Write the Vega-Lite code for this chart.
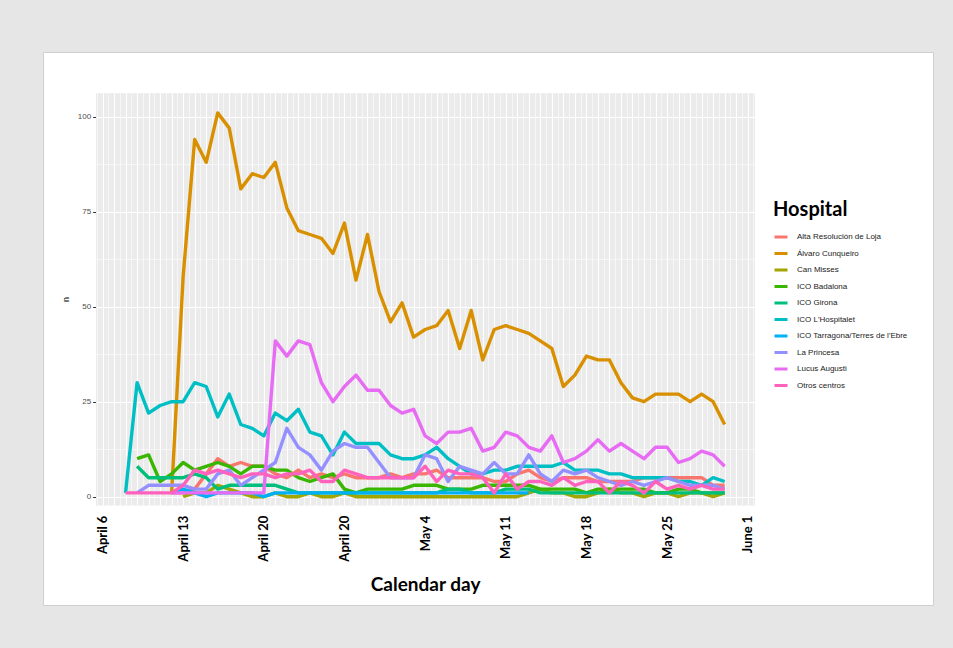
{
"$schema":"https://vega.github.io/schema/vega-lite/v6.json",
"width":890,"height":553,
"autosize":{"type":"none"},
"padding":{"left":43,"top":52,"right":20,"bottom":43},
"background":"#e6e6e6",
"config":{"view":{"fill":"#ffffff","stroke":"#cfcfcf","strokeWidth":1}},
"resolve":{"axis":{"x":"independent","y":"independent"}},
"data":{"values":[
{"d":"2020-04-12","h":"Alta Resolución de Loja","n":1},{"d":"2020-04-13","h":"Alta Resolución de Loja","n":1},{"d":"2020-04-14","h":"Alta Resolución de Loja","n":2},{"d":"2020-04-15","h":"Alta Resolución de Loja","n":6},{"d":"2020-04-16","h":"Alta Resolución de Loja","n":10},{"d":"2020-04-17","h":"Alta Resolución de Loja","n":8},{"d":"2020-04-18","h":"Alta Resolución de Loja","n":9},{"d":"2020-04-19","h":"Alta Resolución de Loja","n":8},{"d":"2020-04-20","h":"Alta Resolución de Loja","n":8},{"d":"2020-04-21","h":"Alta Resolución de Loja","n":6},{"d":"2020-04-22","h":"Alta Resolución de Loja","n":5},{"d":"2020-04-23","h":"Alta Resolución de Loja","n":7},{"d":"2020-04-24","h":"Alta Resolución de Loja","n":5},{"d":"2020-04-25","h":"Alta Resolución de Loja","n":6},{"d":"2020-04-26","h":"Alta Resolución de Loja","n":5},{"d":"2020-04-27","h":"Alta Resolución de Loja","n":6},{"d":"2020-04-28","h":"Alta Resolución de Loja","n":5},{"d":"2020-04-29","h":"Alta Resolución de Loja","n":5},{"d":"2020-04-30","h":"Alta Resolución de Loja","n":5},{"d":"2020-05-01","h":"Alta Resolución de Loja","n":6},{"d":"2020-05-02","h":"Alta Resolución de Loja","n":5},{"d":"2020-05-03","h":"Alta Resolución de Loja","n":6},{"d":"2020-05-04","h":"Alta Resolución de Loja","n":6},{"d":"2020-05-05","h":"Alta Resolución de Loja","n":7},{"d":"2020-05-06","h":"Alta Resolución de Loja","n":5},{"d":"2020-05-07","h":"Alta Resolución de Loja","n":5},{"d":"2020-05-08","h":"Alta Resolución de Loja","n":5},{"d":"2020-05-09","h":"Alta Resolución de Loja","n":5},{"d":"2020-05-10","h":"Alta Resolución de Loja","n":4},{"d":"2020-05-11","h":"Alta Resolución de Loja","n":4},{"d":"2020-05-12","h":"Alta Resolución de Loja","n":6},{"d":"2020-05-13","h":"Alta Resolución de Loja","n":7},{"d":"2020-05-14","h":"Alta Resolución de Loja","n":5},{"d":"2020-05-15","h":"Alta Resolución de Loja","n":4},{"d":"2020-05-16","h":"Alta Resolución de Loja","n":5},{"d":"2020-05-17","h":"Alta Resolución de Loja","n":5},{"d":"2020-05-18","h":"Alta Resolución de Loja","n":5},{"d":"2020-05-19","h":"Alta Resolución de Loja","n":4},{"d":"2020-05-20","h":"Alta Resolución de Loja","n":4},{"d":"2020-05-21","h":"Alta Resolución de Loja","n":4},{"d":"2020-05-22","h":"Alta Resolución de Loja","n":4},{"d":"2020-05-23","h":"Alta Resolución de Loja","n":5},{"d":"2020-05-24","h":"Alta Resolución de Loja","n":5},{"d":"2020-05-25","h":"Alta Resolución de Loja","n":5},{"d":"2020-05-26","h":"Alta Resolución de Loja","n":5},{"d":"2020-05-27","h":"Alta Resolución de Loja","n":5},{"d":"2020-05-28","h":"Alta Resolución de Loja","n":5},{"d":"2020-05-29","h":"Alta Resolución de Loja","n":3},{"d":"2020-05-30","h":"Alta Resolución de Loja","n":3},
{"d":"2020-04-12","h":"Álvaro Cunqueiro","n":1},{"d":"2020-04-13","h":"Álvaro Cunqueiro","n":58},{"d":"2020-04-14","h":"Álvaro Cunqueiro","n":94},{"d":"2020-04-15","h":"Álvaro Cunqueiro","n":88},{"d":"2020-04-16","h":"Álvaro Cunqueiro","n":101},{"d":"2020-04-17","h":"Álvaro Cunqueiro","n":97},{"d":"2020-04-18","h":"Álvaro Cunqueiro","n":81},{"d":"2020-04-19","h":"Álvaro Cunqueiro","n":85},{"d":"2020-04-20","h":"Álvaro Cunqueiro","n":84},{"d":"2020-04-21","h":"Álvaro Cunqueiro","n":88},{"d":"2020-04-22","h":"Álvaro Cunqueiro","n":76},{"d":"2020-04-23","h":"Álvaro Cunqueiro","n":70},{"d":"2020-04-24","h":"Álvaro Cunqueiro","n":69},{"d":"2020-04-25","h":"Álvaro Cunqueiro","n":68},{"d":"2020-04-26","h":"Álvaro Cunqueiro","n":64},{"d":"2020-04-27","h":"Álvaro Cunqueiro","n":72},{"d":"2020-04-28","h":"Álvaro Cunqueiro","n":57},{"d":"2020-04-29","h":"Álvaro Cunqueiro","n":69},{"d":"2020-04-30","h":"Álvaro Cunqueiro","n":54},{"d":"2020-05-01","h":"Álvaro Cunqueiro","n":46},{"d":"2020-05-02","h":"Álvaro Cunqueiro","n":51},{"d":"2020-05-03","h":"Álvaro Cunqueiro","n":42},{"d":"2020-05-04","h":"Álvaro Cunqueiro","n":44},{"d":"2020-05-05","h":"Álvaro Cunqueiro","n":45},{"d":"2020-05-06","h":"Álvaro Cunqueiro","n":49},{"d":"2020-05-07","h":"Álvaro Cunqueiro","n":39},{"d":"2020-05-08","h":"Álvaro Cunqueiro","n":49},{"d":"2020-05-09","h":"Álvaro Cunqueiro","n":36},{"d":"2020-05-10","h":"Álvaro Cunqueiro","n":44},{"d":"2020-05-11","h":"Álvaro Cunqueiro","n":45},{"d":"2020-05-12","h":"Álvaro Cunqueiro","n":44},{"d":"2020-05-13","h":"Álvaro Cunqueiro","n":43},{"d":"2020-05-14","h":"Álvaro Cunqueiro","n":41},{"d":"2020-05-15","h":"Álvaro Cunqueiro","n":39},{"d":"2020-05-16","h":"Álvaro Cunqueiro","n":29},{"d":"2020-05-17","h":"Álvaro Cunqueiro","n":32},{"d":"2020-05-18","h":"Álvaro Cunqueiro","n":37},{"d":"2020-05-19","h":"Álvaro Cunqueiro","n":36},{"d":"2020-05-20","h":"Álvaro Cunqueiro","n":36},{"d":"2020-05-21","h":"Álvaro Cunqueiro","n":30},{"d":"2020-05-22","h":"Álvaro Cunqueiro","n":26},{"d":"2020-05-23","h":"Álvaro Cunqueiro","n":25},{"d":"2020-05-24","h":"Álvaro Cunqueiro","n":27},{"d":"2020-05-25","h":"Álvaro Cunqueiro","n":27},{"d":"2020-05-26","h":"Álvaro Cunqueiro","n":27},{"d":"2020-05-27","h":"Álvaro Cunqueiro","n":25},{"d":"2020-05-28","h":"Álvaro Cunqueiro","n":27},{"d":"2020-05-29","h":"Álvaro Cunqueiro","n":25},{"d":"2020-05-30","h":"Álvaro Cunqueiro","n":19},
{"d":"2020-04-13","h":"Can Misses","n":0},{"d":"2020-04-14","h":"Can Misses","n":1},{"d":"2020-04-15","h":"Can Misses","n":1},{"d":"2020-04-16","h":"Can Misses","n":3},{"d":"2020-04-17","h":"Can Misses","n":2},{"d":"2020-04-18","h":"Can Misses","n":1},{"d":"2020-04-19","h":"Can Misses","n":0},{"d":"2020-04-20","h":"Can Misses","n":0},{"d":"2020-04-21","h":"Can Misses","n":1},{"d":"2020-04-22","h":"Can Misses","n":0},{"d":"2020-04-23","h":"Can Misses","n":0},{"d":"2020-04-24","h":"Can Misses","n":1},{"d":"2020-04-25","h":"Can Misses","n":0},{"d":"2020-04-26","h":"Can Misses","n":0},{"d":"2020-04-27","h":"Can Misses","n":1},{"d":"2020-04-28","h":"Can Misses","n":0},{"d":"2020-04-29","h":"Can Misses","n":0},{"d":"2020-04-30","h":"Can Misses","n":0},{"d":"2020-05-01","h":"Can Misses","n":0},{"d":"2020-05-02","h":"Can Misses","n":0},{"d":"2020-05-03","h":"Can Misses","n":0},{"d":"2020-05-04","h":"Can Misses","n":0},{"d":"2020-05-05","h":"Can Misses","n":0},{"d":"2020-05-06","h":"Can Misses","n":0},{"d":"2020-05-07","h":"Can Misses","n":0},{"d":"2020-05-08","h":"Can Misses","n":0},{"d":"2020-05-09","h":"Can Misses","n":0},{"d":"2020-05-10","h":"Can Misses","n":0},{"d":"2020-05-11","h":"Can Misses","n":0},{"d":"2020-05-12","h":"Can Misses","n":0},{"d":"2020-05-13","h":"Can Misses","n":1},{"d":"2020-05-14","h":"Can Misses","n":2},{"d":"2020-05-15","h":"Can Misses","n":1},{"d":"2020-05-16","h":"Can Misses","n":1},{"d":"2020-05-17","h":"Can Misses","n":0},{"d":"2020-05-18","h":"Can Misses","n":0},{"d":"2020-05-19","h":"Can Misses","n":1},{"d":"2020-05-20","h":"Can Misses","n":2},{"d":"2020-05-21","h":"Can Misses","n":1},{"d":"2020-05-22","h":"Can Misses","n":1},{"d":"2020-05-23","h":"Can Misses","n":0},{"d":"2020-05-24","h":"Can Misses","n":1},{"d":"2020-05-25","h":"Can Misses","n":1},{"d":"2020-05-26","h":"Can Misses","n":0},{"d":"2020-05-27","h":"Can Misses","n":1},{"d":"2020-05-28","h":"Can Misses","n":1},{"d":"2020-05-29","h":"Can Misses","n":0},{"d":"2020-05-30","h":"Can Misses","n":1},
{"d":"2020-04-09","h":"ICO Badalona","n":10},{"d":"2020-04-10","h":"ICO Badalona","n":11},{"d":"2020-04-11","h":"ICO Badalona","n":4},{"d":"2020-04-12","h":"ICO Badalona","n":6},{"d":"2020-04-13","h":"ICO Badalona","n":9},{"d":"2020-04-14","h":"ICO Badalona","n":7},{"d":"2020-04-15","h":"ICO Badalona","n":8},{"d":"2020-04-16","h":"ICO Badalona","n":9},{"d":"2020-04-17","h":"ICO Badalona","n":8},{"d":"2020-04-18","h":"ICO Badalona","n":6},{"d":"2020-04-19","h":"ICO Badalona","n":8},{"d":"2020-04-20","h":"ICO Badalona","n":8},{"d":"2020-04-21","h":"ICO Badalona","n":7},{"d":"2020-04-22","h":"ICO Badalona","n":7},{"d":"2020-04-23","h":"ICO Badalona","n":5},{"d":"2020-04-24","h":"ICO Badalona","n":4},{"d":"2020-04-25","h":"ICO Badalona","n":5},{"d":"2020-04-26","h":"ICO Badalona","n":6},{"d":"2020-04-27","h":"ICO Badalona","n":2},{"d":"2020-04-28","h":"ICO Badalona","n":1},{"d":"2020-04-29","h":"ICO Badalona","n":2},{"d":"2020-04-30","h":"ICO Badalona","n":2},{"d":"2020-05-01","h":"ICO Badalona","n":2},{"d":"2020-05-02","h":"ICO Badalona","n":2},{"d":"2020-05-03","h":"ICO Badalona","n":3},{"d":"2020-05-04","h":"ICO Badalona","n":3},{"d":"2020-05-05","h":"ICO Badalona","n":3},{"d":"2020-05-06","h":"ICO Badalona","n":2},{"d":"2020-05-07","h":"ICO Badalona","n":2},{"d":"2020-05-08","h":"ICO Badalona","n":2},{"d":"2020-05-09","h":"ICO Badalona","n":3},{"d":"2020-05-10","h":"ICO Badalona","n":3},{"d":"2020-05-11","h":"ICO Badalona","n":3},{"d":"2020-05-12","h":"ICO Badalona","n":3},{"d":"2020-05-13","h":"ICO Badalona","n":3},{"d":"2020-05-14","h":"ICO Badalona","n":2},{"d":"2020-05-15","h":"ICO Badalona","n":2},{"d":"2020-05-16","h":"ICO Badalona","n":2},{"d":"2020-05-17","h":"ICO Badalona","n":2},{"d":"2020-05-18","h":"ICO Badalona","n":1},{"d":"2020-05-19","h":"ICO Badalona","n":2},{"d":"2020-05-20","h":"ICO Badalona","n":2},{"d":"2020-05-21","h":"ICO Badalona","n":2},{"d":"2020-05-22","h":"ICO Badalona","n":2},{"d":"2020-05-23","h":"ICO Badalona","n":2},{"d":"2020-05-24","h":"ICO Badalona","n":1},{"d":"2020-05-25","h":"ICO Badalona","n":1},{"d":"2020-05-26","h":"ICO Badalona","n":2},{"d":"2020-05-27","h":"ICO Badalona","n":2},{"d":"2020-05-28","h":"ICO Badalona","n":1},{"d":"2020-05-29","h":"ICO Badalona","n":1},{"d":"2020-05-30","h":"ICO Badalona","n":1},
{"d":"2020-04-09","h":"ICO Girona","n":8},{"d":"2020-04-10","h":"ICO Girona","n":5},{"d":"2020-04-11","h":"ICO Girona","n":5},{"d":"2020-04-12","h":"ICO Girona","n":5},{"d":"2020-04-13","h":"ICO Girona","n":5},{"d":"2020-04-14","h":"ICO Girona","n":6},{"d":"2020-04-15","h":"ICO Girona","n":5},{"d":"2020-04-16","h":"ICO Girona","n":2},{"d":"2020-04-17","h":"ICO Girona","n":3},{"d":"2020-04-18","h":"ICO Girona","n":3},{"d":"2020-04-19","h":"ICO Girona","n":3},{"d":"2020-04-20","h":"ICO Girona","n":3},{"d":"2020-04-21","h":"ICO Girona","n":3},{"d":"2020-04-22","h":"ICO Girona","n":2},{"d":"2020-04-23","h":"ICO Girona","n":1},{"d":"2020-04-24","h":"ICO Girona","n":1},{"d":"2020-04-25","h":"ICO Girona","n":1},{"d":"2020-04-26","h":"ICO Girona","n":1},{"d":"2020-04-27","h":"ICO Girona","n":1},{"d":"2020-04-28","h":"ICO Girona","n":1},{"d":"2020-04-29","h":"ICO Girona","n":1},{"d":"2020-04-30","h":"ICO Girona","n":1},{"d":"2020-05-01","h":"ICO Girona","n":1},{"d":"2020-05-02","h":"ICO Girona","n":1},{"d":"2020-05-03","h":"ICO Girona","n":1},{"d":"2020-05-04","h":"ICO Girona","n":1},{"d":"2020-05-05","h":"ICO Girona","n":1},{"d":"2020-05-06","h":"ICO Girona","n":2},{"d":"2020-05-07","h":"ICO Girona","n":2},{"d":"2020-05-08","h":"ICO Girona","n":1},{"d":"2020-05-09","h":"ICO Girona","n":1},{"d":"2020-05-10","h":"ICO Girona","n":1},{"d":"2020-05-11","h":"ICO Girona","n":2},{"d":"2020-05-12","h":"ICO Girona","n":2},{"d":"2020-05-13","h":"ICO Girona","n":2},{"d":"2020-05-14","h":"ICO Girona","n":1},{"d":"2020-05-15","h":"ICO Girona","n":1},{"d":"2020-05-16","h":"ICO Girona","n":1},{"d":"2020-05-17","h":"ICO Girona","n":1},{"d":"2020-05-18","h":"ICO Girona","n":1},{"d":"2020-05-19","h":"ICO Girona","n":1},{"d":"2020-05-20","h":"ICO Girona","n":1},{"d":"2020-05-21","h":"ICO Girona","n":1},{"d":"2020-05-22","h":"ICO Girona","n":1},{"d":"2020-05-23","h":"ICO Girona","n":1},{"d":"2020-05-24","h":"ICO Girona","n":1},{"d":"2020-05-25","h":"ICO Girona","n":1},{"d":"2020-05-26","h":"ICO Girona","n":1},{"d":"2020-05-27","h":"ICO Girona","n":1},{"d":"2020-05-28","h":"ICO Girona","n":1},{"d":"2020-05-29","h":"ICO Girona","n":1},{"d":"2020-05-30","h":"ICO Girona","n":1},
{"d":"2020-04-08","h":"ICO L'Hospitalet","n":1},{"d":"2020-04-09","h":"ICO L'Hospitalet","n":30},{"d":"2020-04-10","h":"ICO L'Hospitalet","n":22},{"d":"2020-04-11","h":"ICO L'Hospitalet","n":24},{"d":"2020-04-12","h":"ICO L'Hospitalet","n":25},{"d":"2020-04-13","h":"ICO L'Hospitalet","n":25},{"d":"2020-04-14","h":"ICO L'Hospitalet","n":30},{"d":"2020-04-15","h":"ICO L'Hospitalet","n":29},{"d":"2020-04-16","h":"ICO L'Hospitalet","n":21},{"d":"2020-04-17","h":"ICO L'Hospitalet","n":27},{"d":"2020-04-18","h":"ICO L'Hospitalet","n":19},{"d":"2020-04-19","h":"ICO L'Hospitalet","n":18},{"d":"2020-04-20","h":"ICO L'Hospitalet","n":16},{"d":"2020-04-21","h":"ICO L'Hospitalet","n":22},{"d":"2020-04-22","h":"ICO L'Hospitalet","n":20},{"d":"2020-04-23","h":"ICO L'Hospitalet","n":23},{"d":"2020-04-24","h":"ICO L'Hospitalet","n":17},{"d":"2020-04-25","h":"ICO L'Hospitalet","n":16},{"d":"2020-04-26","h":"ICO L'Hospitalet","n":11},{"d":"2020-04-27","h":"ICO L'Hospitalet","n":17},{"d":"2020-04-28","h":"ICO L'Hospitalet","n":14},{"d":"2020-04-29","h":"ICO L'Hospitalet","n":14},{"d":"2020-04-30","h":"ICO L'Hospitalet","n":14},{"d":"2020-05-01","h":"ICO L'Hospitalet","n":11},{"d":"2020-05-02","h":"ICO L'Hospitalet","n":10},{"d":"2020-05-03","h":"ICO L'Hospitalet","n":10},{"d":"2020-05-04","h":"ICO L'Hospitalet","n":11},{"d":"2020-05-05","h":"ICO L'Hospitalet","n":13},{"d":"2020-05-06","h":"ICO L'Hospitalet","n":10},{"d":"2020-05-07","h":"ICO L'Hospitalet","n":8},{"d":"2020-05-08","h":"ICO L'Hospitalet","n":6},{"d":"2020-05-09","h":"ICO L'Hospitalet","n":6},{"d":"2020-05-10","h":"ICO L'Hospitalet","n":7},{"d":"2020-05-11","h":"ICO L'Hospitalet","n":7},{"d":"2020-05-12","h":"ICO L'Hospitalet","n":8},{"d":"2020-05-13","h":"ICO L'Hospitalet","n":8},{"d":"2020-05-14","h":"ICO L'Hospitalet","n":8},{"d":"2020-05-15","h":"ICO L'Hospitalet","n":8},{"d":"2020-05-16","h":"ICO L'Hospitalet","n":9},{"d":"2020-05-17","h":"ICO L'Hospitalet","n":7},{"d":"2020-05-18","h":"ICO L'Hospitalet","n":7},{"d":"2020-05-19","h":"ICO L'Hospitalet","n":7},{"d":"2020-05-20","h":"ICO L'Hospitalet","n":6},{"d":"2020-05-21","h":"ICO L'Hospitalet","n":6},{"d":"2020-05-22","h":"ICO L'Hospitalet","n":5},{"d":"2020-05-23","h":"ICO L'Hospitalet","n":5},{"d":"2020-05-24","h":"ICO L'Hospitalet","n":5},{"d":"2020-05-25","h":"ICO L'Hospitalet","n":5},{"d":"2020-05-26","h":"ICO L'Hospitalet","n":4},{"d":"2020-05-27","h":"ICO L'Hospitalet","n":4},{"d":"2020-05-28","h":"ICO L'Hospitalet","n":3},{"d":"2020-05-29","h":"ICO L'Hospitalet","n":5},{"d":"2020-05-30","h":"ICO L'Hospitalet","n":4},
{"d":"2020-04-12","h":"ICO Tarragona/Terres de l'Ebre","n":1},{"d":"2020-04-13","h":"ICO Tarragona/Terres de l'Ebre","n":2},{"d":"2020-04-14","h":"ICO Tarragona/Terres de l'Ebre","n":1},{"d":"2020-04-15","h":"ICO Tarragona/Terres de l'Ebre","n":0},{"d":"2020-04-16","h":"ICO Tarragona/Terres de l'Ebre","n":1},{"d":"2020-04-17","h":"ICO Tarragona/Terres de l'Ebre","n":1},{"d":"2020-04-18","h":"ICO Tarragona/Terres de l'Ebre","n":1},{"d":"2020-04-19","h":"ICO Tarragona/Terres de l'Ebre","n":1},{"d":"2020-04-20","h":"ICO Tarragona/Terres de l'Ebre","n":0},{"d":"2020-04-21","h":"ICO Tarragona/Terres de l'Ebre","n":1},{"d":"2020-04-22","h":"ICO Tarragona/Terres de l'Ebre","n":1},{"d":"2020-04-23","h":"ICO Tarragona/Terres de l'Ebre","n":1},{"d":"2020-04-24","h":"ICO Tarragona/Terres de l'Ebre","n":1},{"d":"2020-04-25","h":"ICO Tarragona/Terres de l'Ebre","n":1},{"d":"2020-04-26","h":"ICO Tarragona/Terres de l'Ebre","n":1},{"d":"2020-04-27","h":"ICO Tarragona/Terres de l'Ebre","n":1},{"d":"2020-04-28","h":"ICO Tarragona/Terres de l'Ebre","n":1},{"d":"2020-04-29","h":"ICO Tarragona/Terres de l'Ebre","n":1},{"d":"2020-04-30","h":"ICO Tarragona/Terres de l'Ebre","n":1},{"d":"2020-05-01","h":"ICO Tarragona/Terres de l'Ebre","n":1},{"d":"2020-05-02","h":"ICO Tarragona/Terres de l'Ebre","n":1},{"d":"2020-05-03","h":"ICO Tarragona/Terres de l'Ebre","n":1},{"d":"2020-05-04","h":"ICO Tarragona/Terres de l'Ebre","n":1},{"d":"2020-05-05","h":"ICO Tarragona/Terres de l'Ebre","n":1},{"d":"2020-05-06","h":"ICO Tarragona/Terres de l'Ebre","n":1},{"d":"2020-05-07","h":"ICO Tarragona/Terres de l'Ebre","n":1},{"d":"2020-05-08","h":"ICO Tarragona/Terres de l'Ebre","n":1},{"d":"2020-05-09","h":"ICO Tarragona/Terres de l'Ebre","n":1},{"d":"2020-05-10","h":"ICO Tarragona/Terres de l'Ebre","n":1},{"d":"2020-05-11","h":"ICO Tarragona/Terres de l'Ebre","n":1},{"d":"2020-05-12","h":"ICO Tarragona/Terres de l'Ebre","n":1},{"d":"2020-05-13","h":"ICO Tarragona/Terres de l'Ebre","n":1},
{"d":"2020-04-09","h":"La Princesa","n":1},{"d":"2020-04-10","h":"La Princesa","n":3},{"d":"2020-04-11","h":"La Princesa","n":3},{"d":"2020-04-12","h":"La Princesa","n":3},{"d":"2020-04-13","h":"La Princesa","n":3},{"d":"2020-04-14","h":"La Princesa","n":2},{"d":"2020-04-15","h":"La Princesa","n":2},{"d":"2020-04-16","h":"La Princesa","n":6},{"d":"2020-04-17","h":"La Princesa","n":7},{"d":"2020-04-18","h":"La Princesa","n":3},{"d":"2020-04-19","h":"La Princesa","n":5},{"d":"2020-04-20","h":"La Princesa","n":7},{"d":"2020-04-21","h":"La Princesa","n":9},{"d":"2020-04-22","h":"La Princesa","n":18},{"d":"2020-04-23","h":"La Princesa","n":13},{"d":"2020-04-24","h":"La Princesa","n":11},{"d":"2020-04-25","h":"La Princesa","n":7},{"d":"2020-04-26","h":"La Princesa","n":12},{"d":"2020-04-27","h":"La Princesa","n":14},{"d":"2020-04-28","h":"La Princesa","n":13},{"d":"2020-04-29","h":"La Princesa","n":13},{"d":"2020-04-30","h":"La Princesa","n":9},{"d":"2020-05-01","h":"La Princesa","n":5},{"d":"2020-05-02","h":"La Princesa","n":5},{"d":"2020-05-03","h":"La Princesa","n":5},{"d":"2020-05-04","h":"La Princesa","n":11},{"d":"2020-05-05","h":"La Princesa","n":10},{"d":"2020-05-06","h":"La Princesa","n":4},{"d":"2020-05-07","h":"La Princesa","n":8},{"d":"2020-05-08","h":"La Princesa","n":7},{"d":"2020-05-09","h":"La Princesa","n":6},{"d":"2020-05-10","h":"La Princesa","n":9},{"d":"2020-05-11","h":"La Princesa","n":6},{"d":"2020-05-12","h":"La Princesa","n":6},{"d":"2020-05-13","h":"La Princesa","n":11},{"d":"2020-05-14","h":"La Princesa","n":6},{"d":"2020-05-15","h":"La Princesa","n":4},{"d":"2020-05-16","h":"La Princesa","n":7},{"d":"2020-05-17","h":"La Princesa","n":6},{"d":"2020-05-18","h":"La Princesa","n":7},{"d":"2020-05-19","h":"La Princesa","n":5},{"d":"2020-05-20","h":"La Princesa","n":4},{"d":"2020-05-21","h":"La Princesa","n":3},{"d":"2020-05-22","h":"La Princesa","n":4},{"d":"2020-05-23","h":"La Princesa","n":3},{"d":"2020-05-24","h":"La Princesa","n":4},{"d":"2020-05-25","h":"La Princesa","n":5},{"d":"2020-05-26","h":"La Princesa","n":4},{"d":"2020-05-27","h":"La Princesa","n":3},{"d":"2020-05-28","h":"La Princesa","n":3},{"d":"2020-05-29","h":"La Princesa","n":3},{"d":"2020-05-30","h":"La Princesa","n":2},
{"d":"2020-04-12","h":"Lucus Augusti","n":1},{"d":"2020-04-13","h":"Lucus Augusti","n":1},{"d":"2020-04-14","h":"Lucus Augusti","n":1},{"d":"2020-04-15","h":"Lucus Augusti","n":1},{"d":"2020-04-16","h":"Lucus Augusti","n":1},{"d":"2020-04-17","h":"Lucus Augusti","n":1},{"d":"2020-04-18","h":"Lucus Augusti","n":1},{"d":"2020-04-19","h":"Lucus Augusti","n":1},{"d":"2020-04-20","h":"Lucus Augusti","n":1},{"d":"2020-04-21","h":"Lucus Augusti","n":41},{"d":"2020-04-22","h":"Lucus Augusti","n":37},{"d":"2020-04-23","h":"Lucus Augusti","n":41},{"d":"2020-04-24","h":"Lucus Augusti","n":40},{"d":"2020-04-25","h":"Lucus Augusti","n":30},{"d":"2020-04-26","h":"Lucus Augusti","n":25},{"d":"2020-04-27","h":"Lucus Augusti","n":29},{"d":"2020-04-28","h":"Lucus Augusti","n":32},{"d":"2020-04-29","h":"Lucus Augusti","n":28},{"d":"2020-04-30","h":"Lucus Augusti","n":28},{"d":"2020-05-01","h":"Lucus Augusti","n":24},{"d":"2020-05-02","h":"Lucus Augusti","n":22},{"d":"2020-05-03","h":"Lucus Augusti","n":23},{"d":"2020-05-04","h":"Lucus Augusti","n":16},{"d":"2020-05-05","h":"Lucus Augusti","n":14},{"d":"2020-05-06","h":"Lucus Augusti","n":17},{"d":"2020-05-07","h":"Lucus Augusti","n":17},{"d":"2020-05-08","h":"Lucus Augusti","n":18},{"d":"2020-05-09","h":"Lucus Augusti","n":12},{"d":"2020-05-10","h":"Lucus Augusti","n":13},{"d":"2020-05-11","h":"Lucus Augusti","n":17},{"d":"2020-05-12","h":"Lucus Augusti","n":16},{"d":"2020-05-13","h":"Lucus Augusti","n":13},{"d":"2020-05-14","h":"Lucus Augusti","n":12},{"d":"2020-05-15","h":"Lucus Augusti","n":16},{"d":"2020-05-16","h":"Lucus Augusti","n":9},{"d":"2020-05-17","h":"Lucus Augusti","n":10},{"d":"2020-05-18","h":"Lucus Augusti","n":12},{"d":"2020-05-19","h":"Lucus Augusti","n":15},{"d":"2020-05-20","h":"Lucus Augusti","n":12},{"d":"2020-05-21","h":"Lucus Augusti","n":14},{"d":"2020-05-22","h":"Lucus Augusti","n":12},{"d":"2020-05-23","h":"Lucus Augusti","n":10},{"d":"2020-05-24","h":"Lucus Augusti","n":13},{"d":"2020-05-25","h":"Lucus Augusti","n":13},{"d":"2020-05-26","h":"Lucus Augusti","n":9},{"d":"2020-05-27","h":"Lucus Augusti","n":10},{"d":"2020-05-28","h":"Lucus Augusti","n":12},{"d":"2020-05-29","h":"Lucus Augusti","n":11},{"d":"2020-05-30","h":"Lucus Augusti","n":8},
{"d":"2020-04-08","h":"Otros centros","n":1},{"d":"2020-04-09","h":"Otros centros","n":1},{"d":"2020-04-10","h":"Otros centros","n":1},{"d":"2020-04-11","h":"Otros centros","n":1},{"d":"2020-04-12","h":"Otros centros","n":1},{"d":"2020-04-13","h":"Otros centros","n":3},{"d":"2020-04-14","h":"Otros centros","n":7},{"d":"2020-04-15","h":"Otros centros","n":6},{"d":"2020-04-16","h":"Otros centros","n":7},{"d":"2020-04-17","h":"Otros centros","n":6},{"d":"2020-04-18","h":"Otros centros","n":5},{"d":"2020-04-19","h":"Otros centros","n":6},{"d":"2020-04-20","h":"Otros centros","n":6},{"d":"2020-04-21","h":"Otros centros","n":5},{"d":"2020-04-22","h":"Otros centros","n":6},{"d":"2020-04-23","h":"Otros centros","n":6},{"d":"2020-04-24","h":"Otros centros","n":7},{"d":"2020-04-25","h":"Otros centros","n":4},{"d":"2020-04-26","h":"Otros centros","n":4},{"d":"2020-04-27","h":"Otros centros","n":7},{"d":"2020-04-28","h":"Otros centros","n":6},{"d":"2020-04-29","h":"Otros centros","n":5},{"d":"2020-04-30","h":"Otros centros","n":5},{"d":"2020-05-01","h":"Otros centros","n":5},{"d":"2020-05-02","h":"Otros centros","n":5},{"d":"2020-05-03","h":"Otros centros","n":5},{"d":"2020-05-04","h":"Otros centros","n":8},{"d":"2020-05-05","h":"Otros centros","n":4},{"d":"2020-05-06","h":"Otros centros","n":7},{"d":"2020-05-07","h":"Otros centros","n":6},{"d":"2020-05-08","h":"Otros centros","n":6},{"d":"2020-05-09","h":"Otros centros","n":5},{"d":"2020-05-10","h":"Otros centros","n":1},{"d":"2020-05-11","h":"Otros centros","n":6},{"d":"2020-05-12","h":"Otros centros","n":2},{"d":"2020-05-13","h":"Otros centros","n":4},{"d":"2020-05-14","h":"Otros centros","n":4},{"d":"2020-05-15","h":"Otros centros","n":3},{"d":"2020-05-16","h":"Otros centros","n":5},{"d":"2020-05-17","h":"Otros centros","n":3},{"d":"2020-05-18","h":"Otros centros","n":4},{"d":"2020-05-19","h":"Otros centros","n":4},{"d":"2020-05-20","h":"Otros centros","n":1},{"d":"2020-05-21","h":"Otros centros","n":4},{"d":"2020-05-22","h":"Otros centros","n":3},{"d":"2020-05-23","h":"Otros centros","n":1},{"d":"2020-05-24","h":"Otros centros","n":4},{"d":"2020-05-25","h":"Otros centros","n":2},{"d":"2020-05-26","h":"Otros centros","n":3},{"d":"2020-05-27","h":"Otros centros","n":2},{"d":"2020-05-28","h":"Otros centros","n":3},{"d":"2020-05-29","h":"Otros centros","n":2},{"d":"2020-05-30","h":"Otros centros","n":2}
]},
"layer":[
{"mark":{"type":"point","opacity":0},
 "encoding":{
  "x":{"field":"d","type":"temporal",
   "scale":{"type":"utc","domain":[{"year":2020,"month":4,"date":5,"hours":9,"minutes":36,"utc":true},{"year":2020,"month":6,"date":1,"hours":14,"minutes":24,"utc":true}],"range":[52.6,711.6]},
   "axis":{"orient":"top","values":[1588550400000],"grid":true,"gridColor":"#ebebeb","gridOpacity":1,"gridWidth":659,"labels":false,"ticks":false,"domain":false,"title":null}},
  "y":{"field":"n","type":"quantitative",
   "axis":{"orient":"left","values":[12.5,37.5,62.5,87.5],"grid":true,"gridColor":"#ffffff","gridOpacity":1,"gridWidth":0.55,"labels":false,"ticks":false,"domain":false,"title":null}}}},
{"mark":{"type":"point","opacity":0},
 "encoding":{
  "x":{"field":"d","type":"temporal",
   "axis":{"orient":"top","grid":true,"gridColor":"#ffffff","gridOpacity":1,"gridWidth":0.55,"labels":false,"ticks":false,"domain":false,"title":null,
     "values":[1586088000000,1586174400000,1586260800000,1586347200000,1586433600000,1586520000000,1586606400000,1586692800000,1586779200000,1586865600000,1586952000000,1587038400000,1587124800000,1587211200000,1587297600000,1587384000000,1587470400000,1587556800000,1587643200000,1587729600000,1587816000000,1587902400000,1587988800000,1588075200000,1588161600000,1588248000000,1588334400000,1588420800000,1588507200000,1588593600000,1588680000000,1588766400000,1588852800000,1588939200000,1589025600000,1589112000000,1589198400000,1589284800000,1589371200000,1589457600000,1589544000000,1589630400000,1589716800000,1589803200000,1589889600000,1589976000000,1590062400000,1590148800000,1590235200000,1590321600000,1590408000000,1590494400000,1590580800000,1590667200000,1590753600000,1590840000000,1590926400000,1591012800000]}},
  "y":{"field":"n","type":"quantitative",
   "axis":{"orient":"left","offset":-52.6,"values":[0,25,50,75,100],"format":"d",
     "grid":true,"gridColor":"#ffffff","gridOpacity":1,"gridWidth":1.1,
     "domain":false,"ticks":true,"tickColor":"#333333","tickSize":3,"tickWidth":1,
     "labelFont":"Liberation Sans","labelFontSize":8,"labelColor":"#4d4d4d","labelPadding":2,
     "title":"n","titleFont":"Liberation Sans","titleFontSize":9,"titleFontWeight":"normal","titleColor":"#000000","titleX":-30,"titleBaseline":"middle"}}}},
{"mark":{"type":"point","opacity":0},
 "encoding":{
  "x":{"field":"d","type":"temporal",
   "axis":{"orient":"top","grid":true,"gridColor":"#ffffff","gridOpacity":1,"gridWidth":1.1,"labels":false,"ticks":false,"domain":false,"title":null,
     "values":[1586131200000,1586217600000,1586304000000,1586390400000,1586476800000,1586563200000,1586649600000,1586736000000,1586822400000,1586908800000,1586995200000,1587081600000,1587168000000,1587254400000,1587340800000,1587427200000,1587513600000,1587600000000,1587686400000,1587772800000,1587859200000,1587945600000,1588032000000,1588118400000,1588204800000,1588291200000,1588377600000,1588464000000,1588550400000,1588636800000,1588723200000,1588809600000,1588896000000,1588982400000,1589068800000,1589155200000,1589241600000,1589328000000,1589414400000,1589500800000,1589587200000,1589673600000,1589760000000,1589846400000,1589932800000,1590019200000,1590105600000,1590192000000,1590278400000,1590364800000,1590451200000,1590537600000,1590624000000,1590710400000,1590796800000,1590883200000,1590969600000]}},
  "y":{"field":"n","type":"quantitative","axis":null}}},
{"mark":{"type":"line","strokeWidth":3.4,"strokeJoin":"round"},
 "encoding":{
  "x":{"field":"d","type":"temporal",
   "axis":{"orient":"bottom","offset":-99.9,"grid":false,"ticks":false,"domain":false,
     "values":[{"year":2020,"month":4,"date":6,"utc":true},{"year":2020,"month":4,"date":13,"utc":true},{"year":2020,"month":4,"date":20,"utc":true},{"year":2020,"month":4,"date":27,"utc":true},{"year":2020,"month":5,"date":4,"utc":true},{"year":2020,"month":5,"date":11,"utc":true},{"year":2020,"month":5,"date":18,"utc":true},{"year":2020,"month":5,"date":25,"utc":true},{"year":2020,"month":6,"date":1,"utc":true}],
     "labelExpr":"utcdate(datum.value) == 27 ? 'April 20' : utcFormat(datum.value, '%B %-d')",
     "labelAngle":270,"labelFont":"Lato","labelFontWeight":"bold","labelFontSize":13,"labelColor":"#000000","labelPadding":10,"labelOverlap":false,"labelFlush":false,
     "title":"Calendar day","titleFont":"Lato","titleFontWeight":"bold","titleFontSize":19,"titleColor":"#000000","titleY":85,"titleBaseline":"alphabetic"}},
  "y":{"field":"n","type":"quantitative",
   "scale":{"domain":[-2.2,106.3],"range":[453.06,40.76],"nice":false,"zero":false},
   "axis":null},
  "color":{"field":"h","type":"nominal",
   "scale":{"domain":["Alta Resolución de Loja","Álvaro Cunqueiro","Can Misses","ICO Badalona","ICO Girona","ICO L'Hospitalet","ICO Tarragona/Terres de l'Ebre","La Princesa","Lucus Augusti","Otros centros"],
     "range":["#F8766D","#D89000","#A3A500","#39B600","#00BF7D","#00BFC4","#00B0F6","#9590FF","#E76BF3","#FF62BC"]},
   "legend":{"orient":"none","legendX":730,"legendY":148,"padding":0,"title":"Hospital","titleFont":"Lato","titleFontSize":20,"titleFontWeight":"bold","titleColor":"#000000","titlePadding":9,
     "labelFont":"Liberation Sans","labelFontSize":8,"labelColor":"#222222","labelOffset":8,"symbolType":"stroke","symbolSize":169,"symbolStrokeWidth":3,"rowPadding":2.5}}
 }}
]
}
